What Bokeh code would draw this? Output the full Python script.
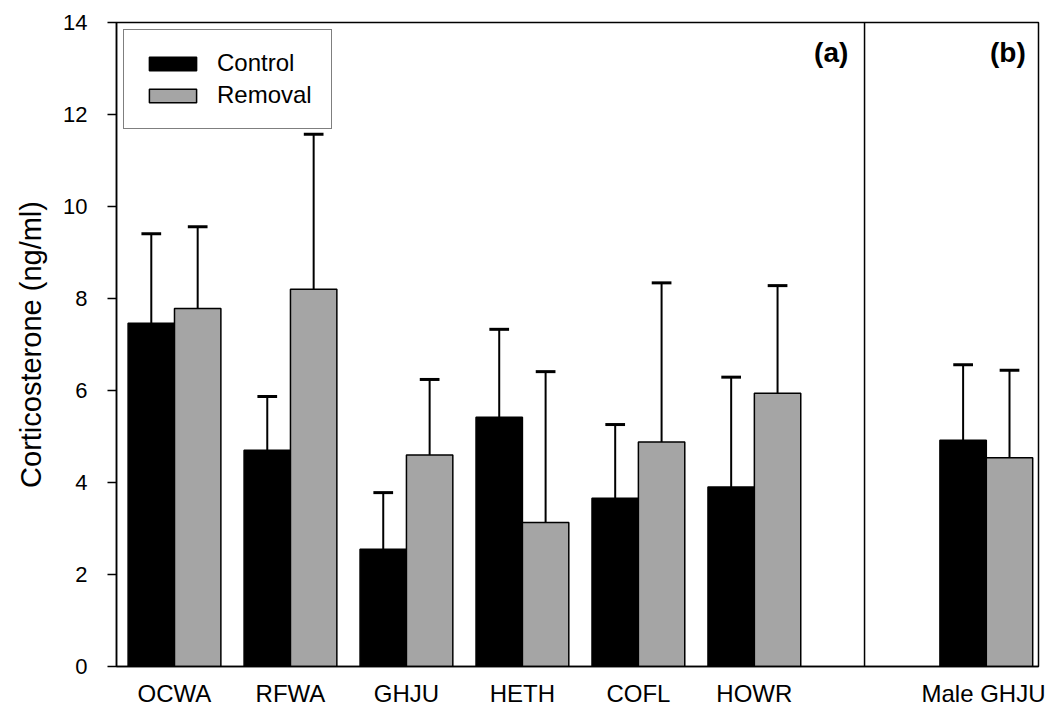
from bokeh.plotting import figure
from bokeh.models import Range1d, FixedTicker, Span, Label, Legend, LegendItem, ColumnDataSource
from bokeh.embed import file_html
from bokeh.resources import INLINE

# ---- data ----
categories = ["OCWA", "RFWA", "GHJU", "HETH", "COFL", "HOWR", "Male GHJU"]
positions = [0, 1, 2, 3, 4, 5, 7]
control_mean = [7.46, 4.70, 2.55, 5.42, 3.66, 3.90, 4.92]
control_upper = [9.41, 5.87, 3.78, 7.33, 5.26, 6.29, 6.56]
removal_mean = [7.78, 8.20, 4.60, 3.13, 4.88, 5.94, 4.54]
removal_upper = [9.56, 11.57, 6.24, 6.41, 8.34, 8.28, 6.44]
y_ticks = [0, 2, 4, 6, 8, 10, 12, 14]
panel_labels = ["(a)", "(b)"]
series_names = ["Control", "Removal"]

FONT = "Liberation Sans"
GRAY = "#a5a5a5"
BW = 0.4
OFF = 0.2
CAP = 0.085

p = figure(frame_width=922, frame_height=644, output_backend="svg", toolbar_location=None,
           x_range=Range1d(-0.5, 7.45), y_range=Range1d(0, 14),
           min_border_left=116, min_border_right=7, min_border_top=22, min_border_bottom=30)
p.xgrid.visible = False
p.ygrid.visible = False
p.outline_line_color = "black"
p.outline_line_width = 1.5

cx = [x - OFF for x in positions]
rx = [x + OFF for x in positions]
src_c = ColumnDataSource(dict(x=cx, top=control_mean, up=control_upper,
                              x0=[x - CAP for x in cx], x1=[x + CAP for x in cx]))
src_r = ColumnDataSource(dict(x=rx, top=removal_mean, up=removal_upper,
                              x0=[x - CAP for x in rx], x1=[x + CAP for x in rx]))

# error bars (upper only)
for s in (src_c, src_r):
    p.segment(x0="x", y0="top", x1="x", y1="up", source=s, line_color="black", line_width=2)
    p.segment(x0="x0", y0="up", x1="x1", y1="up", source=s, line_color="black", line_width=3)

rc = p.vbar(x="x", top="top", bottom=0, width=BW, source=src_c, fill_color="black",
            line_color="black", line_width=1.5)
rr = p.vbar(x="x", top="top", bottom=0, width=BW, source=src_r, fill_color=GRAY,
            line_color="black", line_width=1.5)

# divider between panels
p.add_layout(Span(location=5.95, dimension="height", line_color="black", line_width=1.5))

# axes
p.xaxis.ticker = FixedTicker(ticks=positions)
p.xaxis.major_label_overrides = {pos: c for pos, c in zip(positions, categories)}
p.xaxis.major_tick_line_color = None
p.xaxis.major_tick_out = 0
p.xaxis.major_tick_in = 0
p.xaxis.minor_tick_line_color = None
p.xaxis.axis_line_color = "black"
p.xaxis.axis_line_width = 1.5
p.xaxis.major_label_standoff = 13
p.xaxis.major_label_text_font = FONT
p.xaxis.major_label_text_font_size = "24px"
p.xaxis.major_label_text_color = "black"

p.yaxis.ticker = FixedTicker(ticks=y_ticks)
p.yaxis.minor_tick_line_color = None
p.yaxis.major_tick_in = 0
p.yaxis.major_tick_out = 9
p.yaxis.major_tick_line_width = 1.5
p.yaxis.axis_line_width = 1.5
p.yaxis.major_label_standoff = 20
p.yaxis.major_label_text_font = FONT
p.yaxis.major_label_text_font_size = "22px"
p.yaxis.major_label_text_color = "black"
p.yaxis.axis_label = "Corticosterone (ng/ml)"
p.yaxis.axis_label_text_font = FONT
p.yaxis.axis_label_text_font_size = "29px"
p.yaxis.axis_label_text_font_style = "normal"
p.yaxis.axis_label_text_color = "black"
p.yaxis.axis_label_standoff = 13

# panel labels
p.add_layout(Label(x=5.81, y=13.68, text=panel_labels[0], text_align="right", text_baseline="top",
                   text_font=FONT, text_font_style="bold", text_font_size="28px", text_color="black"))
p.add_layout(Label(x=7.34, y=13.68, text=panel_labels[1], text_align="right", text_baseline="top",
                   text_font=FONT, text_font_style="bold", text_font_size="28px", text_color="black"))

legend = Legend(items=[LegendItem(label=series_names[0], renderers=[rc]),
                       LegendItem(label=series_names[1], renderers=[rr])],
                location="top_left")
legend.margin = 7
legend.padding = 19
legend.spacing = 4
legend.glyph_width = 59
legend.glyph_height = 17
legend.label_standoff = 15
legend.label_text_font = FONT
legend.label_text_font_size = "24px"
legend.label_text_color = "black"
legend.border_line_color = "black"
legend.border_line_width = 1.5
legend.background_fill_alpha = 1
p.add_layout(legend, "center")

open("out.html", "w").write(file_html(p, INLINE))
